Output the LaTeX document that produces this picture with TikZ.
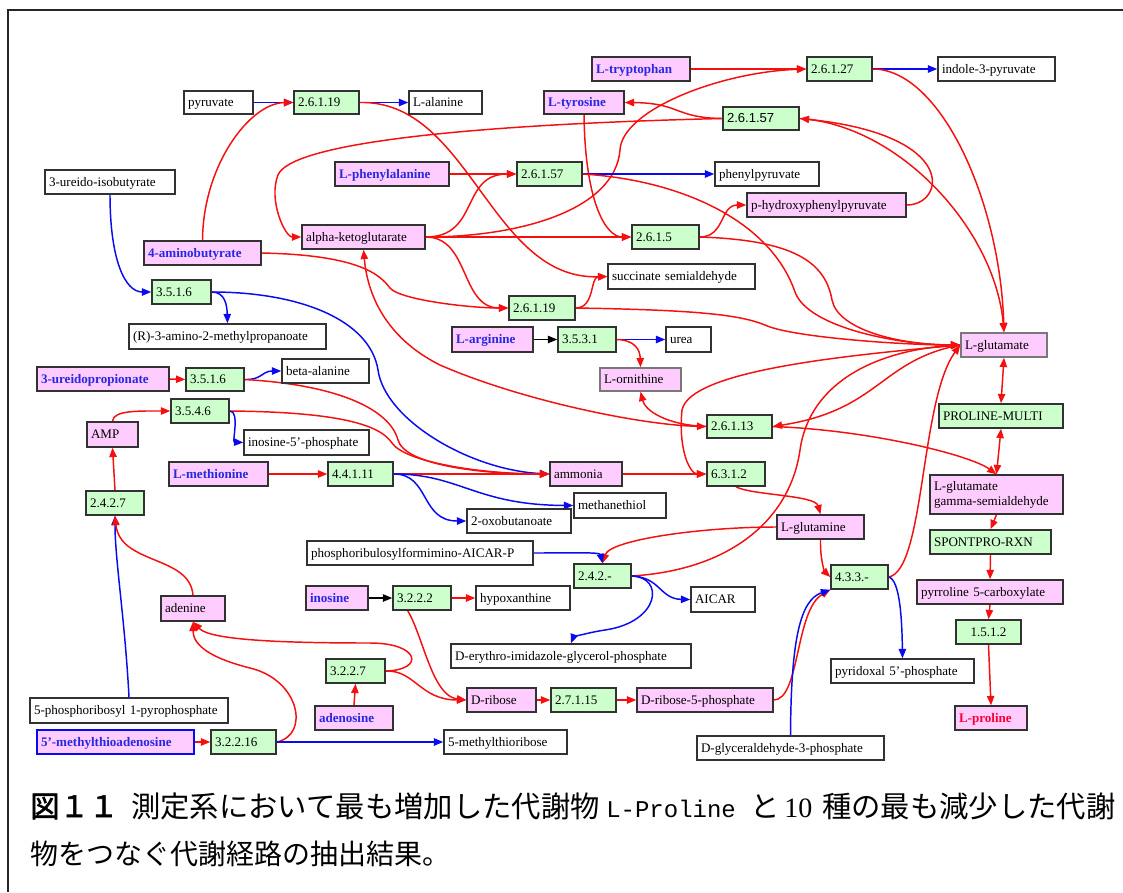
\documentclass[tikz,border=0pt]{standalone}
\usepackage{fontspec}
\setmainfont{Liberation Serif}
\setsansfont{Liberation Sans}
\setmonofont{Liberation Mono}
\newfontfamily\cjk{Noto Sans CJK JP}[AutoFakeBold=2]
\usetikzlibrary{arrows.meta,backgrounds}
\definecolor{pk}{RGB}{255,204,255}
\definecolor{gr}{RGB}{204,255,204}
\definecolor{bd}{RGB}{50,50,50}
\definecolor{bdl}{RGB}{120,120,120}
\definecolor{er}{RGB}{245,15,15}
\definecolor{eb}{RGB}{10,10,240}
\definecolor{tb}{RGB}{40,40,225}
\definecolor{tr}{RGB}{250,0,50}
\newcommand\fsz{\fontsize{9.8}{11.3}\selectfont}
\newcommand\bxn[7]{%
  \pgfmathsetmacro\bxw{(#5-#3)*0.75}%
  \pgfmathsetmacro\bxh{(#6-#4)*0.75}%
  \pgfmathsetmacro\bxt{(#5-#3)*0.75-6}%
  \node[box,#2,minimum width=\bxw pt,minimum height=\bxh pt,text width=\bxt pt] (#1) at ({(#3+#5)/2},{(#4+#6)/2}) {#7};}
\tikzset{
  box/.style={draw=bd, line width=1.1pt, inner xsep=3pt, inner ysep=0pt, align=left, font=\fsz, text height=8.3pt, text depth=1.6pt},
  wb/.style={fill=white},
  pb/.style={fill=pk},
  gb/.style={fill=gr},
  bt/.style={font=\fsz\bfseries, text=tb},
  redge/.style={draw=er, line width=1.1pt, -{Triangle[length=7pt,width=5.5pt]}},
  bedge/.style={draw=eb, line width=1.1pt, -{Triangle[length=7pt,width=5.5pt]}},
  kedge/.style={draw=black, line width=1.1pt, -{Triangle[length=7pt,width=5.5pt]}},
  bidir/.style={{Triangle[length=7pt,width=5.5pt]}-{Triangle[length=7pt,width=5.5pt]}},
  captxt/.style={anchor=base west, inner sep=0pt},
  cjkf/.style={font=\cjk\fontsize{22}{22}\selectfont},
  cjks/.style={font=\cjk\fontsize{21}{21}\selectfont}
}
\begin{document}
\begin{tikzpicture}[x=0.75pt,y=-0.75pt]
\useasboundingbox (0,0) rectangle (1123,892);
\begin{scope}[on background layer]
\fill[white] (0,0) rectangle (1123,892);
\end{scope}
\draw[line width=1.2pt, black!85] (8,892) -- (8,10) -- (1123,10);
% nodes
\bxn{pyr}{wb}{184}{91}{253}{114}{pyruvate}
\bxn{e19a}{gb}{294}{91}{359}{114}{2.6.1.19}
\bxn{ala}{wb}{409}{91}{482}{114}{L-alanine}
\bxn{trp}{pb,bt}{592}{57}{690}{81}{L-tryptophan}
\bxn{e27}{gb}{807}{57}{872}{81}{2.6.1.27}
\bxn{ind}{wb}{938}{57}{1055}{81}{indole-3-pyruvate}
\bxn{tyr}{pb,bt}{544}{91}{624}{114}{L-tyrosine}
\bxn{e57a}{gb,font=\fsz\sffamily}{723}{107}{799}{130}{2.6.1.57}
\bxn{uib}{wb}{45}{170}{175}{194}{3-ureido-isobutyrate}
\bxn{phe}{pb,bt}{335}{162}{449}{186}{L-phenylalanine}
\bxn{e57b}{gb}{517}{162}{582}{186}{2.6.1.57}
\bxn{ppy}{wb}{715}{162}{819}{186}{phenylpyruvate}
\bxn{hpp}{pb}{747}{193}{906}{217}{p-hydroxyphenylpyruvate}
\bxn{akg}{pb}{302}{225}{425}{249}{alpha-ketoglutarate}
\bxn{e5}{gb}{632}{225}{699}{249}{2.6.1.5}
\bxn{gaba}{pb,bt}{144}{241}{261}{265}{4-aminobutyrate}
\bxn{ssa}{wb}{608}{264}{755}{289}{succinate semialdehyde}
\bxn{e16a}{gb}{152}{280}{211}{304}{3.5.1.6}
\bxn{e19b}{gb}{509}{296}{575}{320}{2.6.1.19}
\bxn{amp2}{wb}{129}{324}{326}{349}{(R)-3-amino-2-methylpropanoate}
\bxn{arg}{pb,bt}{452}{327}{533}{352}{L-arginine}
\bxn{e531}{gb}{558}{327}{616}{352}{3.5.3.1}
\bxn{urea}{wb}{666}{327}{711}{352}{urea}
\bxn{glu}{pb,draw=bdl}{961}{333}{1047}{357}{L-glutamate}
\bxn{beta}{wb}{282}{359}{369}{383}{beta-alanine}
\bxn{urp}{pb,bt}{37}{367}{169}{391}{3-ureidopropionate}
\bxn{e16b}{gb}{186}{368}{244}{391}{3.5.1.6}
\bxn{orn}{pb,draw=bdl}{600}{368}{681}{391}{L-ornithine}
\bxn{e546}{gb}{171}{399}{229}{423}{3.5.4.6}
\bxn{pm}{gb}{939}{404}{1063}{428}{PROLINE-MULTI}
\bxn{e13}{gb}{707}{415}{772}{438}{2.6.1.13}
\bxn{amp}{pb}{87}{422}{138}{447}{AMP}
\bxn{imp}{wb}{244}{430}{369}{455}{inosine-5'-phosphate}
\bxn{met}{pb,bt}{169}{462}{268}{486}{L-methionine}
\bxn{e411}{gb}{328}{462}{393}{486}{4.4.1.11}
\bxn{nh3}{pb}{550}{462}{622}{486}{ammonia}
\bxn{e6312}{gb}{707}{462}{765}{486}{6.3.1.2}
\bxn{gsa}{pb,text height=8pt,text depth=14pt}{930}{475}{1063}{514}{L-glutamate\\gamma-semialdehyde}
\bxn{e247}{gb}{86}{491}{144}{515}{2.4.2.7}
\bxn{mtl}{wb}{574}{493}{666}{518}{methanethiol}
\bxn{oxb}{wb}{467}{509}{571}{533}{2-oxobutanoate}
\bxn{gln}{pb}{777}{515}{864}{539}{L-glutamine}
\bxn{spr}{gb}{930}{530}{1051}{554}{SPONTPRO-RXN}
\bxn{prf}{wb}{307}{541}{533}{565}{phosphoribulosylformimino-AICAR-P}
\bxn{e242}{gb}{574}{564}{631}{588}{2.4.2.-}
\bxn{e433}{gb}{831}{565}{888}{589}{4.3.3.-}
\bxn{p5c}{pb}{917}{580}{1063}{604}{pyrroline 5-carboxylate}
\bxn{ino}{pb,bt}{306}{586}{368}{610}{inosine}
\bxn{e3222}{gb}{393}{586}{451}{610}{3.2.2.2}
\bxn{hyp}{wb}{476}{586}{570}{610}{hypoxanthine}
\bxn{aicar}{wb}{691}{587}{755}{612}{AICAR}
\bxn{ade}{pb}{161}{596}{225}{621}{adenine}
\bxn{e1512}{gb,align=center}{956}{620}{1021}{644}{1.5.1.2}
\bxn{eig}{wb}{451}{644}{691}{668}{D-erythro-imidazole-glycerol-phosphate}
\bxn{e3227}{gb}{326}{659}{385}{683}{3.2.2.7}
\bxn{pyx}{wb}{831}{659}{974}{683}{pyridoxal 5'-phosphate}
\bxn{rib}{pb}{467}{688}{536}{712}{D-ribose}
\bxn{e27115}{gb}{551}{688}{616}{712}{2.7.1.15}
\bxn{r5p}{pb}{637}{688}{773}{712}{D-ribose-5-phosphate}
\bxn{prpp}{wb}{30}{698}{228}{723}{5-phosphoribosyl 1-pyrophosphate}
\bxn{ado}{pb,bt}{315}{706}{393}{730}{adenosine}
\bxn{pro}{pb,font=\fsz\bfseries,text=tr}{955}{706}{1027}{730}{L-proline}
\bxn{mta}{pb,bt,draw=eb}{37}{730}{194}{754}{5'-methylthioadenosine}
\bxn{e32216}{gb}{211}{730}{276}{754}{3.2.2.16}
\bxn{mtr}{wb}{444}{730}{567}{754}{5-methylthioribose}
\bxn{gap}{wb}{697}{736}{884}{760}{D-glyceraldehyde-3-phosphate}
% edges
\begin{scope}[on background layer]
\draw[bedge] (pyr.east) -- (e19a.west);
\draw[bedge] (e19a.east) -- (ala.west);
\draw[redge] (gaba.north) .. controls (203,165) and (250,103) .. (e19a.west);
\draw[redge] (e19a.east) .. controls (470,100) and (490,280) .. (ssa.west);
\draw[redge] (e57a.west) .. controls (675,118) and (680,103) .. (tyr.east);
\draw[redge] (e57a.west) .. controls (450,125) and (290,145) .. (278,175) .. controls (268,200) and (285,237) .. (akg.west);
\draw[redge] (tyr.south) .. controls (585,200) and (605,237) .. (e5.west);
\draw[redge] (trp.east) -- (e27.west);
\draw[bedge] (e27.east) -- (ind.west);
\draw[redge] (akg.east) .. controls (520,237) and (615,210) .. (620,150) .. controls (622,110) and (720,72) .. (e27.west);
\draw[redge] (akg.east) .. controls (480,237) and (460,174) .. (e57b.west);
\draw[redge] (phe.east) -- (e57b.west);
\draw[bedge] (e57b.east) -- (ppy.west);
\draw[redge] (akg.east) -- (e5.west);
\draw[redge] (akg.east) .. controls (470,237) and (460,308) .. (e19b.west);
\draw[redge] (e5.east) .. controls (725,237) and (720,205) .. (hpp.west);
\draw[redge] (hpp.east) .. controls (945,205) and (960,135) .. (e57a.east);
\draw[redge] (e57a.east) .. controls (900,125) and (995,230) .. (glu.north);
\draw[redge] (e27.east) .. controls (940,69) and (1000,200) .. (glu.north);
\draw[redge] (e57b.east) .. controls (680,180) and (770,220) .. (795,292) .. controls (808,328) and (900,345) .. (glu.west);
\draw[redge] (e5.east) .. controls (790,240) and (825,260) .. (832,300) .. controls (838,330) and (900,345) .. (glu.west);
\draw[redge] (e19b.east) .. controls (700,310) and (740,315) .. (765,325) .. controls (790,337) and (900,345) .. (glu.west);
\draw[redge] (glu.west) .. controls (850,355) and (690,370) .. (682,410) .. controls (678,450) and (690,474) .. (e6312.west);
\draw[redge] (glu.west) .. controls (880,360) and (880,410) .. (e13.east);
\draw[redge] (e242.east) .. controls (730,570) and (790,520) .. (800,450) .. controls (810,380) and (880,350) .. (glu.west);
\draw[redge] (e433.east) .. controls (925,570) and (920,400) .. (glu.west);
\draw[redge] (nh3.east) -- (e6312.west);
\draw[redge] (e6312.south) .. controls (750,495) and (815,495) .. (gln.north);
\draw[redge] (gln.west) .. controls (700,527) and (610,540) .. (e242.north);
\draw[redge] (gln.south) .. controls (820,560) and (825,572) .. (e433.west);
\draw[redge] (r5p.east) .. controls (800,700) and (795,610) .. (e433.south west);
\draw[bedge] (gap.north) .. controls (791,640) and (800,600) .. (e433.south west);
\draw[bedge] (e433.east) .. controls (900,580) and (902,620) .. (pyx.north);
\draw[redge,bidir] (glu.south) -- (pm.north);
\draw[redge,bidir] (pm.south) -- (gsa.north);
\draw[redge] (e13.east) .. controls (870,430) and (970,455) .. (gsa.north);
\draw[redge] (gsa.south) -- (spr.north);
\draw[redge] (spr.south) -- (p5c.north);
\draw[redge] (p5c.south) -- (e1512.north);
\draw[redge] (e1512.south) -- (pro.north);
\draw[bedge] (uib.south) .. controls (110,260) and (125,292) .. (e16a.west);
\draw[bedge] (e16a.east) .. controls (225,292) and (227,305) .. (amp2.north);
\draw[bedge] (e16a.east) .. controls (300,292) and (370,320) .. (378,370) .. controls (385,420) and (470,470) .. (nh3.west);
\draw[redge] (urp.east) -- (e16b.west);
\draw[bedge] (e16b.east) .. controls (262,380) and (262,371) .. (beta.west);
\draw[redge] (e16b.east) .. controls (340,385) and (390,410) .. (398,440) .. controls (405,465) and (480,474) .. (nh3.west);
\draw[redge] (e546.east) .. controls (340,412) and (380,425) .. (392,443) .. controls (405,462) and (480,474) .. (nh3.west);
\draw[redge] (amp.north) .. controls (113,410) and (140,411) .. (e546.west);
\draw[bedge] (e546.east) .. controls (240,411) and (232,442) .. (imp.west);
\draw[redge] (met.east) -- (e411.west);
\draw[redge] (e411.east) -- (nh3.west);
\draw[bedge] (e411.east) .. controls (460,474) and (475,505) .. (mtl.west);
\draw[bedge] (e411.east) .. controls (430,474) and (420,521) .. (oxb.west);
\draw[redge] (e247.north) -- (amp.south);
\draw[bedge] (prpp.north) .. controls (125,620) and (115,560) .. (e247.south);
\draw[redge] (ade.north) .. controls (190,555) and (120,565) .. (e247.south);
\draw[redge] (e32216.east) .. controls (310,735) and (300,680) .. (250,668) .. controls (210,658) and (193,645) .. (ade.south);
\draw[redge] (e3227.east) .. controls (425,670) and (420,643) .. (370,643) .. controls (280,643) and (210,640) .. (ade.south);
\draw[redge] (e3227.east) .. controls (415,670) and (420,700) .. (rib.west);
\draw[redge] (ado.north) -- (e3227.south);
\draw[kedge] (ino.east) -- (e3222.west);
\draw[redge] (e3222.east) -- (hyp.west);
\draw[redge] (e3222.west) .. controls (420,600) and (425,695) .. (rib.west);
\draw[redge] (rib.east) -- (e27115.west);
\draw[redge] (e27115.east) -- (r5p.west);
\draw[redge] (mta.east) -- (e32216.west);
\draw[bedge] (e32216.east) -- (mtr.west);
\draw[bedge] (prf.east) .. controls (570,553) and (600,552) .. (e242.north);
\draw[bedge] (e242.east) .. controls (660,577) and (660,599) .. (aicar.west);
\draw[bedge] (e242.east) .. controls (665,577) and (660,622) .. (605,630) .. controls (585,633) and (573,638) .. (eig.north);
\draw[kedge] (arg.east) -- (e531.west);
\draw[bedge] (e531.east) -- (urea.west);
\draw[redge] (e531.east) .. controls (635,340) and (640,350) .. (orn.north);
\draw[redge] (e13.west) .. controls (665,425) and (645,410) .. (orn.south);
\draw[redge,bidir] (akg.south) .. controls (368,300) and (390,340) .. (440,365) .. controls (520,400) and (640,425) .. (e13.west);
\draw[redge] (gaba.east) .. controls (360,255) and (380,275) .. (390,288) .. controls (400,300) and (470,308) .. (e19b.west);
\draw[redge] (e19b.east) .. controls (595,308) and (590,277) .. (ssa.west);
\end{scope}
% caption
\node[captxt,font=\cjk\fontsize{22}{22}\selectfont\bfseries] (c1) at (30,817) {図１１};
\node[captxt,cjkf] (c2) at (131,817) {測定系において最も増加した代謝物};
\node[captxt,font=\ttfamily\fontsize{18}{18}\selectfont] (c3) at (606,817) {L-Proline};
\node[captxt,cjkf] (c4) at (750,817) {と};
\node[captxt,font=\rmfamily\fontsize{21}{21}\selectfont] (c5) at (784,817) {10};
\node[captxt,cjkf] (c6) at (822,817) {種の最も減少した代謝};
\node[captxt,cjks] (c7) at (30,864) {物をつなぐ代謝経路の抽出結果。};
\end{tikzpicture}
\end{document}
